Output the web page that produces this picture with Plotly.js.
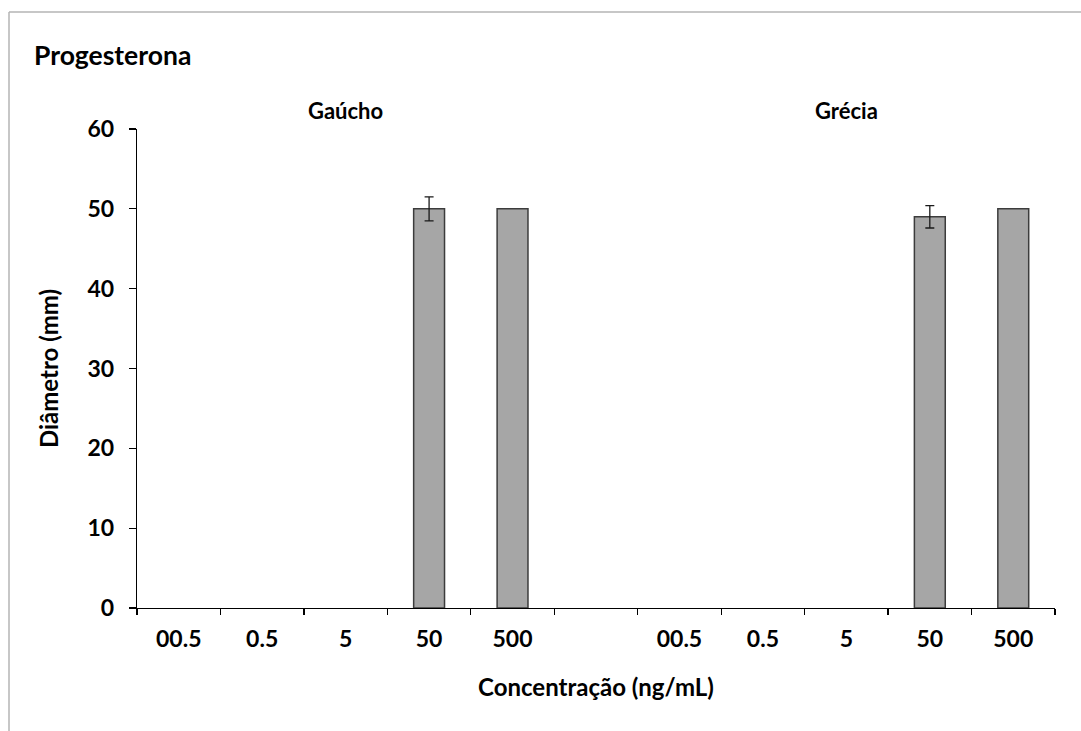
<!DOCTYPE html>
<html>
<head>
<meta charset="utf-8">
<script src="https://cdn.plot.ly/plotly-3.0.1.min.js"></script>
<style>
  html, body { margin: 0; padding: 0; background: #ffffff; }
  #chart { width: 1081px; height: 731px; }
</style>
</head>
<body>
<div id="chart"></div>
<script>
// Concentrations tested for each strain
const concentrations = ["00.5", "0.5", "5", "50", "500"];
const groups = ["Gaúcho", "Grécia"];

// Mean halo diameter (mm) and standard deviation per concentration
// (NaN where no error bar is drawn)
const gauchoValues = [0, 0, 0, 50, 50];
const gauchoErrors = [NaN, NaN, NaN, 1.5, NaN];
const greciaValues = [0, 0, 0, 49, 50];
const greciaErrors = [NaN, NaN, NaN, 1.4, NaN];

const yTickVals = [0, 10, 20, 30, 40, 50, 60];

// Slot layout: first group in slots 0-4, an empty slot, second group in 6-10
const slotsPerGroup = concentrations.length;
const groupOffset = slotsPerGroup + 1;
const posG1 = concentrations.map((_, i) => i);
const posG2 = concentrations.map((_, i) => i + groupOffset);
const totalSlots = groupOffset + slotsPerGroup;

const W = 1081, H = 731;
const M = { l: 137, r: 26, t: 129, b: 123 };
const plotW = W - M.l - M.r;
const plotH = H - M.t - M.b;
const pxToPaperX = px => (px - M.l) / plotW;
const pxToPaperY = py => (H - M.b - py) / plotH;

const FONT = "Lato, 'Open Sans', sans-serif";

// Outline only on bars that have height, so empty slots stay blank
const barStyle = values => ({
  color: "#a6a6a6",
  line: { color: "#3c3c3c", width: values.map(v => (v > 0 ? 1.5 : 0)) }
});
const errStyle = { type: "data", visible: true, color: "#1a1a1a", thickness: 1.3, width: 4.5 };

const traces = [
  {
    type: "bar",
    name: groups[0],
    x: posG1,
    y: gauchoValues,
    marker: barStyle(gauchoValues),
    error_y: Object.assign({ array: gauchoErrors }, errStyle),
    hoverinfo: "y"
  },
  {
    type: "bar",
    name: groups[1],
    x: posG2,
    y: greciaValues,
    marker: barStyle(greciaValues),
    error_y: Object.assign({ array: greciaErrors }, errStyle),
    hoverinfo: "y"
  }
];

// Category boundaries carry the tick marks, labels sit at slot centres
const boundaries = [];
for (let i = 0; i <= totalSlots; i++) boundaries.push(i - 0.5);

const layout = {
  width: W,
  height: H,
  margin: M,
  paper_bgcolor: "#ffffff",
  plot_bgcolor: "#ffffff",
  showlegend: false,
  bargap: 0.63,
  font: { family: FONT, color: "#000000" },
  title: {
    text: "<b>Progesterona</b>",
    font: { family: FONT, size: 26.5, color: "#000000" },
    x: 34 / W, xanchor: "left", xref: "container",
    y: 1 - 56 / H, yanchor: "middle", yref: "container"
  },
  xaxis: {
    range: [-0.5, totalSlots - 0.5],
    tickmode: "array",
    tickvals: posG1.concat(posG2),
    ticktext: concentrations.concat(concentrations).map(t => "<b>" + t + "</b>"),
    ticks: "",
    ticklabelstandoff: 10,
    tickfont: { family: FONT, size: 23, color: "#000000" },
    minor: { tickmode: "array", tickvals: boundaries, ticks: "outside", ticklen: 6, tickcolor: "#000000", tickwidth: 1.3 },
    showline: true, linecolor: "#000000", linewidth: 1.3,
    showgrid: false, zeroline: false, fixedrange: true,
    title: {
      text: "<b>Concentração (ng/mL)</b>",
      font: { family: FONT, size: 24, color: "#000000" },
      standoff: 28
    }
  },
  yaxis: {
    range: [0, 60],
    tickmode: "array",
    tickvals: yTickVals,
    ticktext: yTickVals.map(v => "<b>" + v + "</b>"),
    ticks: "outside", ticklen: 7, tickcolor: "#000000", tickwidth: 1.3,
    ticklabelstandoff: 10,
    tickfont: { family: FONT, size: 23, color: "#000000" },
    showline: true, linecolor: "#000000", linewidth: 1.3,
    showgrid: false, zeroline: false, fixedrange: true,
    title: {
      text: "<b>Diâmetro (mm)</b>",
      font: { family: FONT, size: 24, color: "#000000" },
      standoff: 22
    }
  },
  annotations: [
    {
      text: "<b>" + groups[0] + "</b>", x: posG1[2], xref: "x",
      y: pxToPaperY(110), yref: "paper", yanchor: "middle", xanchor: "center",
      showarrow: false, font: { family: FONT, size: 22, color: "#000000" }
    },
    {
      text: "<b>" + groups[1] + "</b>", x: posG2[2], xref: "x",
      y: pxToPaperY(110), yref: "paper", yanchor: "middle", xanchor: "center",
      showarrow: false, font: { family: FONT, size: 22, color: "#000000" }
    }
  ],
  shapes: [
    // chart frame: left and top edges
    {
      type: "line", xref: "paper", yref: "paper",
      x0: pxToPaperX(9), x1: pxToPaperX(9),
      y0: pxToPaperY(12), y1: pxToPaperY(740),
      line: { color: "#b4b4b4", width: 1.5 }
    },
    {
      type: "line", xref: "paper", yref: "paper",
      x0: pxToPaperX(9), x1: pxToPaperX(1090),
      y0: pxToPaperY(12), y1: pxToPaperY(12),
      line: { color: "#b4b4b4", width: 1.5 }
    }
  ]
};

Plotly.newPlot("chart", traces, layout, { displayModeBar: false, staticPlot: true });
</script>
</body>
</html>
